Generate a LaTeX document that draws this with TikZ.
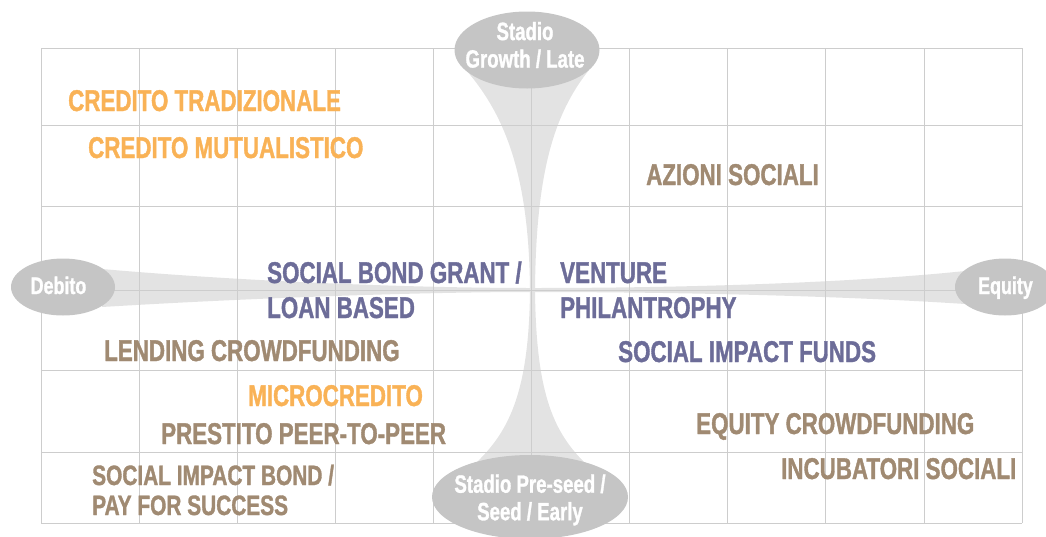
\documentclass[tikz,border=0pt]{standalone}
\usepackage{fontspec}
\setmainfont{Liberation Sans}[FakeStretch=0.745, BoldFeatures={FakeBold=1.2}]
\usepackage{tikz}

\definecolor{orangeTxt}{HTML}{F9B256}
\definecolor{brownTxt}{HTML}{A08A72}
\definecolor{blueTxt}{HTML}{6C6C98}
\definecolor{funnelGrey}{HTML}{E3E3E3}
\definecolor{ovalGrey}{HTML}{C5C5C5}
\definecolor{gridGrey}{HTML}{CDCDCD}

\begin{document}
\begin{tikzpicture}[x=1pt,y=-1pt]
\tikzset{item/.style = {anchor=base west, inner sep=0pt, font=\fontsize{30}{34}\selectfont\bfseries}}
\tikzset{oval/.style = {fill=ovalGrey}}
\tikzset{ovaltext/.style = {align=center, inner sep=0pt, text=white, font=\fontsize{25}{27.5}\selectfont\bfseries}}
\tikzset{gridline/.style = {draw=gridGrey, line width=0.8pt}}
\useasboundingbox (0,0) rectangle (1046,536);

% funnels
\fill[funnelGrey] (466,70) .. controls (505,115) and (529,175) .. (530,290)
  .. controls (529,390) and (510,430) .. (477,462)
  -- (584,462) .. controls (552,430) and (536,390) .. (535,290)
  .. controls (536,175) and (553,115) .. (589,70) -- cycle;
\fill[funnelGrey] (102,269) .. controls (250,282) and (420,288) .. (532,288)
  .. controls (700,288) and (860,282) .. (965,271)
  -- (965,304) .. controls (860,297) and (700,292) .. (532,292)
  .. controls (420,292) and (250,298) .. (102,307) -- cycle;

% grid
\foreach \i in {0,...,10}
  \draw[gridline] (41+98.1*\i,48) -- (41+98.1*\i,523);
\foreach \y in {48,125,206,290,370,452,523}
  \draw[gridline] (41,\y) -- (1022,\y);

% ovals
\fill[oval] (527,50) ellipse (72.5 and 38.5);
\fill[oval] (530,497) ellipse (98 and 42);
\fill[oval] (63,287) ellipse (52 and 28.5);
\fill[oval] (1005,287) ellipse (50 and 28.5);

\node[ovaltext] (late) at (525,45) {Stadio\\Growth / Late};
\node[ovaltext] (early) at (530,500) {Stadio Pre-seed /\\Seed / Early};
\node[ovaltext, anchor=base, font=\fontsize{24}{27}\selectfont\bfseries] (debito) at (58.5,294) {Debito};
\node[ovaltext, anchor=base, font=\fontsize{24}{27}\selectfont\bfseries] (equity) at (1005.5,294) {Equity};

% labels
\node[item, text=orangeTxt] (tradiz) at (68,111) {CREDITO TRADIZIONALE};
\node[item, text=orangeTxt] (mutual) at (88,158) {CREDITO MUTUALISTICO};
\node[item, text=brownTxt] (azioni) at (646,185) {AZIONI SOCIALI};
\node[item, text=blueTxt] (bondgrant) at (267,283) {SOCIAL BOND GRANT /};
\node[item, text=blueTxt] (loanbased) at (267,318) {LOAN BASED};
\node[item, text=blueTxt] (venture) at (560,283) {VENTURE};
\node[item, text=blueTxt] (philan) at (560,318) {PHILANTROPHY};
\node[item, text=brownTxt] (lending) at (104,361) {LENDING CROWDFUNDING};
\node[item, text=blueTxt] (sifunds) at (618,362) {SOCIAL IMPACT FUNDS};
\node[item, text=orangeTxt] (micro) at (248,406) {MICROCREDITO};
\node[item, text=brownTxt] (p2p) at (161,444) {PRESTITO PEER-TO-PEER};
\node[item, text=brownTxt] (eqcrowd) at (696,434) {EQUITY CROWDFUNDING};
\node[item, text=brownTxt] (incub) at (781,479) {INCUBATORI SOCIALI};
\node[item, text=brownTxt, font=\fontsize{28}{32}\selectfont\bfseries] (sib) at (92,485) {SOCIAL IMPACT BOND /};
\node[item, text=brownTxt, font=\fontsize{28}{32}\selectfont\bfseries] (pfs) at (92,515) {PAY FOR SUCCESS};

\end{tikzpicture}
\end{document}
